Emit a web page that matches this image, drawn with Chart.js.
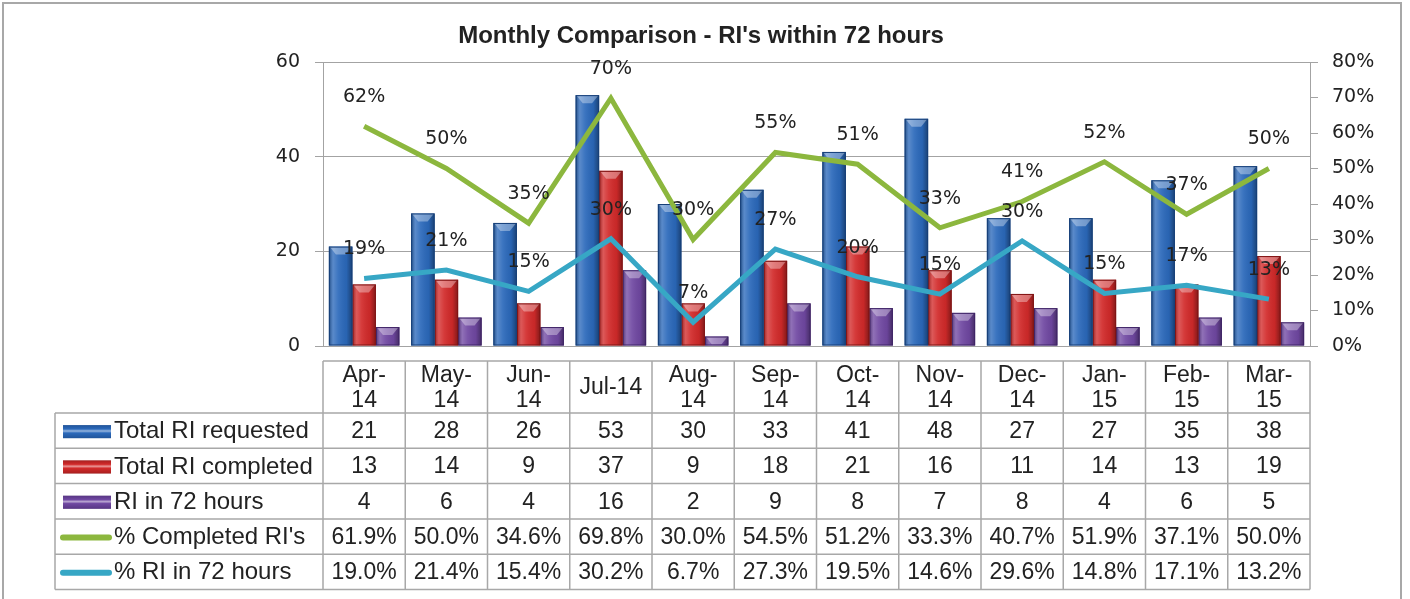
<!DOCTYPE html>
<html>
<head>
<meta charset="utf-8">
<script src="https://cdn.jsdelivr.net/npm/chart.js@4.4.1/dist/chart.umd.min.js"></script>
<style>
  html, body { margin: 0; padding: 0; background: #ffffff; }
  canvas { display: block; }
</style>
</head>
<body>
<canvas id="c" width="1410" height="599"></canvas>
<script>
// ---- data ----
const titleText = "Monthly Comparison - RI's within 72 hours";
const categories = ['Apr-14','May-14','Jun-14','Jul-14','Aug-14','Sep-14','Oct-14','Nov-14','Dec-14','Jan-15','Feb-15','Mar-15'];
const headerLabels = [['Apr-','14'],['May-','14'],['Jun-','14'],['Jul-14'],['Aug-','14'],['Sep-','14'],['Oct-','14'],['Nov-','14'],['Dec-','14'],['Jan-','15'],['Feb-','15'],['Mar-','15']];
const seriesNames = ['Total RI requested','Total RI completed','RI in 72 hours',"% Completed RI's",'% RI in 72 hours'];
const totalRequested = [21,28,26,53,30,33,41,48,27,27,35,38];
const totalCompleted = [13,14,9,37,9,18,21,16,11,14,13,19];
const riIn72 = [4,6,4,16,2,9,8,7,8,4,6,5];
const pctCompleted = [61.9,50.0,34.6,69.8,30.0,54.5,51.2,33.3,40.7,51.9,37.1,50.0];
const pctIn72 = [19.0,21.4,15.4,30.2,6.7,27.3,19.5,14.6,29.6,14.8,17.1,13.2];
const leftTicks = [0,20,40,60];
const rightTicks = [0,10,20,30,40,50,60,70,80];

// ---- styles ----
const barColors = ['#2b69bb','#d22a2a','#7048a2'];
const barEdges = ['#163f78','#7f1414','#3f2466'];
const lineColors = ['#8cb73e','#37a7c5'];
const gridColor = '#a3a3a3';
const textColor = '#222222';
const axisFont = { family: 'DejaVu Sans', size: 19 };
const cellFont = '23px "Liberation Sans", Arial, sans-serif';
const legendFont = '24px "Liberation Sans", Arial, sans-serif';

function fmtPct(v){ return v.toFixed(1) + '%'; }

const bgPlugin = {
  id: 'bg',
  beforeDraw(chart) {
    const ctx = chart.ctx;
    ctx.save();
    ctx.fillStyle = '#ffffff';
    ctx.fillRect(0, 0, chart.width, chart.height);
    ctx.strokeStyle = '#a8a8a8';
    ctx.lineWidth = 2;
    ctx.strokeRect(3, 3, 1398, 640);
    ctx.restore();
  }
};

const barShade = {
  id: 'barShade',
  afterDatasetDraw(chart, args) {
    const meta = args.meta;
    if (meta.type !== 'bar') return;
    const ctx = chart.ctx;
    const di = meta.index;
    ctx.save();
    meta.data.forEach(el => {
      const w = el.width, l = el.x - w / 2, r = el.x + w / 2, t = el.y, b = el.base;
      if (b - t < 1) return;
      const g = ctx.createLinearGradient(l, 0, r, 0);
      g.addColorStop(0, 'rgba(0,0,0,0.30)');
      g.addColorStop(0.18, 'rgba(255,255,255,0.22)');
      g.addColorStop(0.4, 'rgba(255,255,255,0.08)');
      g.addColorStop(0.75, 'rgba(0,0,0,0.05)');
      g.addColorStop(1, 'rgba(0,0,0,0.38)');
      ctx.fillStyle = g;
      ctx.fillRect(l, t, w, b - t);
      const capH = Math.min(8, b - t);
      ctx.beginPath();
      ctx.moveTo(l + 1, t + 0.5);
      ctx.lineTo(r - 1, t + 0.5);
      ctx.lineTo(el.x + w * 0.2, t + capH);
      ctx.lineTo(el.x - w * 0.2, t + capH);
      ctx.closePath();
      ctx.fillStyle = 'rgba(255,255,255,0.35)';
      ctx.fill();
      ctx.strokeStyle = barEdges[di];
      ctx.lineWidth = 1;
      ctx.strokeRect(l + 0.5, t + 0.5, w - 1, b - t - 1);
    });
    ctx.restore();
  }
};

const labelsPlugin = {
  id: 'lineLabels',
  afterDatasetsDraw(chart) {
    const ctx = chart.ctx;
    ctx.save();
    ctx.font = '19px "DejaVu Sans"';
    ctx.fillStyle = textColor;
    ctx.textAlign = 'center';
    ctx.textBaseline = 'middle';
    chart.data.datasets.forEach((ds, i) => {
      if (ds.type !== 'line') return;
      const meta = chart.getDatasetMeta(i);
      meta.data.forEach((pt, j) => {
        ctx.fillText(Math.round(ds.data[j]) + '%', pt.x, pt.y - 29);
      });
    });
    ctx.restore();
  }
};

const tablePlugin = {
  id: 'dataTable',
  afterDraw(chart) {
    const ctx = chart.ctx;
    const ca = chart.chartArea;
    const n = categories.length;
    const colW = (ca.right - ca.left) / n;
    const legL = 55;
    const headTop = 361, headBot = 413;
    const rowH = 35.3;
    const rows = [totalRequested, totalCompleted, riIn72, pctCompleted.map(fmtPct), pctIn72.map(fmtPct)];
    const tableBot = headBot + rowH * rows.length;
    ctx.save();
    // title
    ctx.fillStyle = textColor;
    ctx.font = 'bold 24px "Liberation Sans", Arial, sans-serif';
    ctx.textAlign = 'center';
    ctx.textBaseline = 'middle';
    ctx.fillText(titleText, 701, 36);

    // table grid
    ctx.strokeStyle = '#a8a8a8';
    ctx.lineWidth = 1.5;
    ctx.beginPath();
    ctx.moveTo(ca.left, headTop); ctx.lineTo(ca.right, headTop);
    for (let r = 0; r <= rows.length; r++) {
      const y = headBot + r * rowH;
      ctx.moveTo(legL, y); ctx.lineTo(ca.right, y);
    }
    for (let c = 0; c <= n; c++) {
      const x = ca.left + c * colW;
      ctx.moveTo(x, headTop); ctx.lineTo(x, tableBot);
    }
    ctx.moveTo(legL, headBot); ctx.lineTo(legL, tableBot);
    ctx.stroke();

    // header text
    ctx.font = cellFont;
    ctx.fillStyle = textColor;
    ctx.textAlign = 'center';
    ctx.textBaseline = 'middle';
    headerLabels.forEach((lines, c) => {
      const cx = ca.left + (c + 0.5) * colW;
      const cy = (headTop + headBot) / 2 + 1;
      if (lines.length === 1) ctx.fillText(lines[0], cx, cy);
      else { ctx.fillText(lines[0], cx, cy - 12.5); ctx.fillText(lines[1], cx, cy + 13); }
    });
    rows.forEach((vals, r) => {
      const cy = headBot + (r + 0.5) * rowH + 1;
      vals.forEach((v, c) => {
        ctx.fillText(String(v), ca.left + (c + 0.5) * colW, cy);
      });
    });
    // legend keys
    ctx.textAlign = 'left';
    ctx.font = legendFont;
    seriesNames.forEach((name, r) => {
      const cy = headBot + (r + 0.5) * rowH;
      if (r < 3) {
        const x0 = 63, x1 = 111, h = 13, y0 = cy - h / 2 + 1;
        const g = ctx.createLinearGradient(0, y0, 0, y0 + h);
        g.addColorStop(0, barEdges[r]);
        g.addColorStop(0.3, barColors[r]);
        g.addColorStop(0.45, 'rgba(255,255,255,0.9)');
        g.addColorStop(0.6, barColors[r]);
        g.addColorStop(1, barEdges[r]);
        ctx.fillStyle = g;
        ctx.fillRect(x0, y0, x1 - x0, h);
        ctx.fillStyle = barColors[r];
        ctx.globalAlpha = 0.5;
        ctx.fillRect(x0, y0, x1 - x0, h);
        ctx.globalAlpha = 1;
      } else {
        ctx.strokeStyle = lineColors[r - 3];
        ctx.lineWidth = 6;
        ctx.lineCap = 'round';
        ctx.beginPath();
        ctx.moveTo(63, cy + 1); ctx.lineTo(109, cy + 1);
        ctx.stroke();
      }
      ctx.fillStyle = textColor;
      ctx.fillText(name, 114, cy + 1);
    });
    ctx.restore();
  }
};

const barDs = (label, data, i) => ({
  type: 'bar', label, data, yAxisID: 'y', order: 2,
  backgroundColor: barColors[i], borderWidth: 0,
  categoryPercentage: 0.857, barPercentage: 1.0
});
const lineDs = (label, data, i) => ({
  type: 'line', label, data, yAxisID: 'y1', order: 1,
  borderColor: lineColors[i], backgroundColor: lineColors[i],
  borderWidth: 5, pointRadius: 0, tension: 0, fill: false,
  borderJoinStyle: 'miter'
});

new Chart(document.getElementById('c'), {
  data: {
    labels: categories,
    datasets: [
      barDs(seriesNames[0], totalRequested, 0),
      barDs(seriesNames[1], totalCompleted, 1),
      barDs(seriesNames[2], riIn72, 2),
      lineDs(seriesNames[3], pctCompleted, 0),
      lineDs(seriesNames[4], pctIn72, 1)
    ]
  },
  options: {
    responsive: false,
    animation: false,
    events: [],
    layout: { padding: { top: 62, bottom: 253, left: 0, right: 0 } },
    plugins: { legend: { display: false }, title: { display: false }, tooltip: { enabled: false } },
    scales: {
      x: { type: 'category', display: false, offset: true },
      y: {
        position: 'left', min: leftTicks[0], max: leftTicks[leftTicks.length - 1],
        afterFit(s) { s.width = 323; },
        afterBuildTicks(s) { s.ticks = leftTicks.map(v => ({ value: v })); },
        ticks: { color: textColor, font: axisFont, padding: 15 },
        grid: { color: gridColor, lineWidth: 1, tickLength: 8 },
        border: { color: gridColor, width: 1 }
      },
      y1: {
        position: 'right', min: rightTicks[0], max: rightTicks[rightTicks.length - 1],
        afterFit(s) { s.width = 100; },
        afterBuildTicks(s) { s.ticks = rightTicks.map(v => ({ value: v })); },
        ticks: { color: textColor, font: axisFont, padding: 14, callback: v => v + '%' },
        grid: { drawOnChartArea: false, color: gridColor, lineWidth: 1, tickLength: 8 },
        border: { color: gridColor, width: 1 }
      }
    }
  },
  plugins: [bgPlugin, barShade, labelsPlugin, tablePlugin]
});
</script>
</body>
</html>
